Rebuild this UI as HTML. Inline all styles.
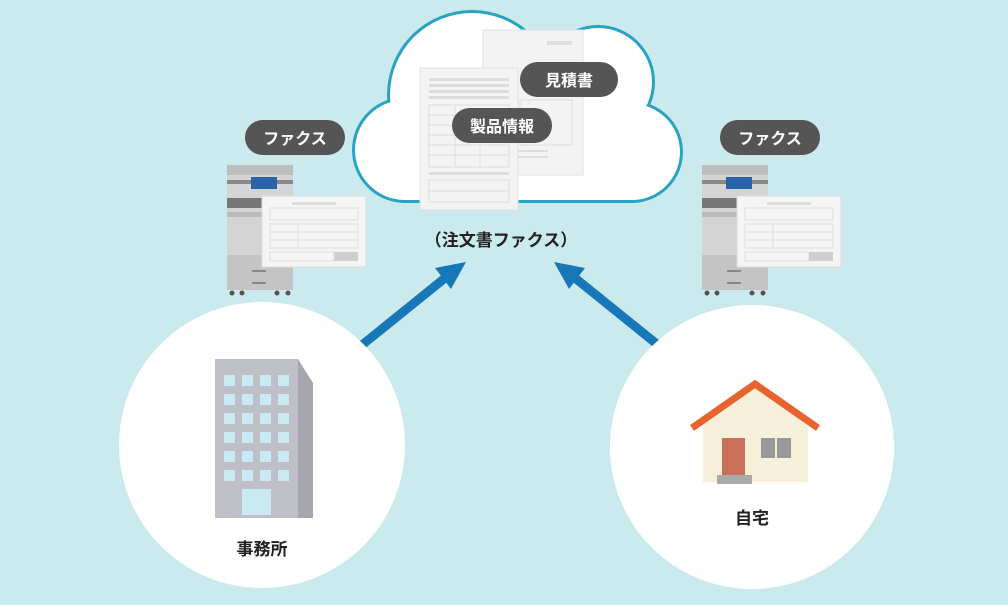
<!DOCTYPE html>
<html><head><meta charset="utf-8"><style>
html,body{margin:0;padding:0;background:#cbeaee;}
svg{display:block}
text{font-family:"Liberation Sans","Noto Sans CJK JP",sans-serif;font-weight:bold;}
</style></head><body>
<svg width="1008" height="605" viewBox="0 0 1008 605" xmlns="http://www.w3.org/2000/svg">
<rect width="1008" height="605" fill="#cbeaee"/>
<defs>
<g id="fax">
  <rect x="245" y="120" width="100" height="35" rx="17.5" fill="#555"/>
  <text x="295" y="144" font-size="16" fill="#fff" text-anchor="middle">ファクス</text>
  <rect x="227" y="165" width="66" height="125" fill="#d4d4d4"/>
  <rect x="227" y="165" width="66" height="10" fill="#bdbdbd"/>
  <rect x="227" y="180" width="66" height="4" fill="#888"/>
  <rect x="251" y="177" width="26" height="12" fill="#2a64a8"/>
  <rect x="227" y="198" width="40" height="10" fill="#777"/>
  <rect x="227" y="212" width="66" height="5" fill="#bbb"/>
  <rect x="227" y="255" width="66" height="35" fill="#c4c4c4"/>
  <rect x="252" y="270" width="14" height="2" fill="#888"/>
  <rect x="252" y="282" width="14" height="2" fill="#888"/>
  <circle cx="232" cy="293" r="2.5" fill="#555"/><circle cx="242" cy="293" r="2.5" fill="#555"/>
  <circle cx="277" cy="293" r="2.5" fill="#555"/><circle cx="288" cy="293" r="2.5" fill="#555"/>
  <rect x="262" y="196" width="104" height="71" fill="#f5f5f5" stroke="#ddd"/>
  <rect x="292" y="202" width="44" height="3" fill="#ddd"/>
  <rect x="270" y="208" width="88" height="12" fill="none" stroke="#ddd"/>
  <rect x="270" y="224" width="88" height="24" fill="none" stroke="#ddd"/>
  <line x1="298" y1="224" x2="298" y2="248" stroke="#ddd"/>
  <line x1="270" y1="232" x2="358" y2="232" stroke="#ddd"/>
  <line x1="270" y1="240" x2="358" y2="240" stroke="#ddd"/>
  <rect x="270" y="252" width="64" height="9" fill="none" stroke="#ddd"/>
  <rect x="334" y="252" width="24" height="9" fill="#cfcfcf"/>
</g>
<g id="cl">
  <circle cx="405" cy="150" r="50"/>
  <circle cx="472" cy="95" r="82"/>
  <circle cx="598" cy="82" r="54"/>
  <circle cx="632" cy="152" r="48"/>
  <rect x="405" y="110" width="227" height="90"/>
</g>
</defs>
<use href="#fax"/>
<use href="#fax" transform="translate(475,0)"/>

<use href="#cl" fill="none" stroke="#2aa3c3" stroke-width="6"/>
<use href="#cl" fill="#fff"/>
<!-- back doc -->
<rect x="483" y="30" width="100" height="145" fill="#f3f3f3" stroke="#e0e0e0"/>
<rect x="547" y="41" width="25" height="4" fill="#ddd"/>
<rect x="520" y="100" width="52" height="45" fill="none" stroke="#ddd"/>
<rect x="518" y="150" width="30" height="2" fill="#ddd"/>
<rect x="518" y="156" width="30" height="2" fill="#ddd"/>
<!-- front doc -->
<rect x="420" y="68" width="98" height="142" fill="#f3f3f3" stroke="#e0e0e0"/>
<g fill="#dcdcdc">
<rect x="429" y="78" width="80" height="3"/><rect x="429" y="84" width="80" height="3"/><rect x="429" y="90" width="80" height="3"/><rect x="429" y="96" width="80" height="3"/>
</g>
<rect x="429" y="105" width="80" height="62" fill="none" stroke="#ddd"/>
<g stroke="#ddd"><line x1="429" y1="115" x2="509" y2="115"/><line x1="429" y1="125" x2="509" y2="125"/><line x1="429" y1="135" x2="509" y2="135"/><line x1="429" y1="145" x2="509" y2="145"/><line x1="429" y1="155" x2="509" y2="155"/><line x1="455" y1="105" x2="455" y2="167"/><line x1="480" y1="135" x2="480" y2="167"/></g>
<rect x="429" y="172" width="80" height="3" fill="#dcdcdc"/>
<rect x="429" y="180" width="80" height="22" fill="none" stroke="#ddd"/>
<line x1="429" y1="191" x2="509" y2="191" stroke="#ddd"/>
<rect x="520" y="62" width="98" height="35" rx="17.5" fill="#555"/>
<text x="569" y="86" font-size="16" fill="#fff" text-anchor="middle">見積書</text>
<rect x="452" y="108" width="100" height="35" rx="17.5" fill="#555"/>
<text x="502" y="132" font-size="16" fill="#fff" text-anchor="middle">製品情報</text>
<text x="501" y="246" font-size="17" fill="#222" text-anchor="middle">（注文書ファクス）</text>

<line x1="362" y1="345" x2="445" y2="278" stroke="#1877b6" stroke-width="9"/>
<polygon points="466,262 435,268 451,289" fill="#1877b6"/>
<line x1="658" y1="345" x2="575" y2="278" stroke="#1877b6" stroke-width="9"/>
<polygon points="554,262 585,268 569,289" fill="#1877b6"/>

<circle cx="262" cy="445" r="143" fill="#fff"/>
<circle cx="752" cy="447" r="142" fill="#fff"/>

<polygon points="298,359 313,383 313,518 298,518" fill="#a6a6b0"/>
<rect x="215" y="359" width="83" height="159" fill="#bfbfc7"/>
<g fill="#cbe9f2">
<rect x="224" y="375" width="11" height="11"/><rect x="242" y="375" width="11" height="11"/><rect x="260" y="375" width="11" height="11"/><rect x="278" y="375" width="11" height="11"/>
<rect x="224" y="394" width="11" height="11"/><rect x="242" y="394" width="11" height="11"/><rect x="260" y="394" width="11" height="11"/><rect x="278" y="394" width="11" height="11"/>
<rect x="224" y="413" width="11" height="11"/><rect x="242" y="413" width="11" height="11"/><rect x="260" y="413" width="11" height="11"/><rect x="278" y="413" width="11" height="11"/>
<rect x="224" y="432" width="11" height="11"/><rect x="242" y="432" width="11" height="11"/><rect x="260" y="432" width="11" height="11"/><rect x="278" y="432" width="11" height="11"/>
<rect x="224" y="451" width="11" height="11"/><rect x="242" y="451" width="11" height="11"/><rect x="260" y="451" width="11" height="11"/><rect x="278" y="451" width="11" height="11"/>
<rect x="224" y="470" width="11" height="11"/><rect x="242" y="470" width="11" height="11"/><rect x="260" y="470" width="11" height="11"/><rect x="278" y="470" width="11" height="11"/>
<rect x="242" y="489" width="29" height="26"/>
</g>
<text x="262" y="555" font-size="17" fill="#222" text-anchor="middle">事務所</text>

<polygon points="703,425 755,388 808,425 808,482 703,482" fill="#f6efd9"/>
<polyline points="692,428 755,384 818,428" fill="none" stroke="#e8632f" stroke-width="7"/>
<rect x="722" y="438" width="23" height="37" fill="#c9705a"/>
<rect x="761" y="438" width="30" height="20" fill="#999"/>
<line x1="776" y1="438" x2="776" y2="458" stroke="#f6efd9" stroke-width="2"/>
<rect x="717" y="475" width="35" height="9" fill="#aaa"/>
<text x="752" y="524" font-size="17" fill="#222" text-anchor="middle">自宅</text>
</svg>
</body></html>
